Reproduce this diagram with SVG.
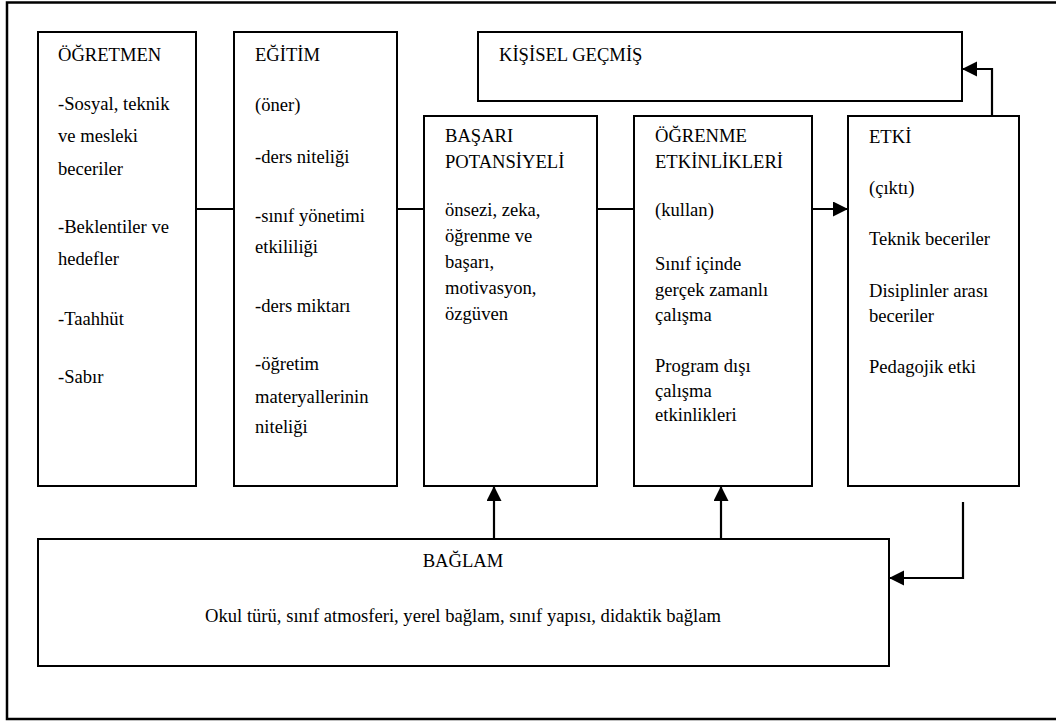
<svg xmlns="http://www.w3.org/2000/svg" width="1056" height="722" viewBox="0 0 1056 722" font-family="'Liberation Serif', 'Times New Roman', serif">
<style>
  .box { fill: #ffffff; stroke: #000000; stroke-width: 2; }
  .t { font-family: 'Liberation Serif', 'Times New Roman', serif; font-size: 18.6px; fill: #000000; }
  .c { text-anchor: middle; }
  .line { fill: none; stroke: #000000; stroke-width: 2; }
  .arrow { fill: none; stroke: #000000; stroke-width: 2.2; }
</style>
<defs>
  <marker id="ah" markerUnits="userSpaceOnUse" markerWidth="16" markerHeight="16" refX="15" refY="7.5" orient="auto">
    <path d="M0,0 L15,7.5 L0,15 Z" fill="#000000"/>
  </marker>
</defs>
<rect x="0" y="0" width="1056" height="722" fill="#ffffff"/>
<rect id="frame" x="7" y="2.5" width="1060" height="716.5" fill="none" stroke="#000000" stroke-width="2.5"/>

<g id="ogretmen">
  <rect class="box" x="38" y="32" width="158" height="454"/>
  <text class="t" x="58" y="61">ÖĞRETMEN</text>
  <text class="t" x="58" y="110">-Sosyal, teknik</text>
  <text class="t" x="58" y="142">ve mesleki</text>
  <text class="t" x="58" y="175">beceriler</text>
  <text class="t" x="58" y="233">-Beklentiler ve</text>
  <text class="t" x="58" y="265">hedefler</text>
  <text class="t" x="58" y="325">-Taahhüt</text>
  <text class="t" x="58" y="383">-Sabır</text>
</g>

<g id="egitim">
  <rect class="box" x="234" y="32" width="163" height="454"/>
  <text class="t" x="255" y="61">EĞİTİM</text>
  <text class="t" x="255" y="111">(öner)</text>
  <text class="t" x="255" y="163">-ders niteliği</text>
  <text class="t" x="255" y="222">-sınıf yönetimi</text>
  <text class="t" x="255" y="253">etkililiği</text>
  <text class="t" x="255" y="312">-ders miktarı</text>
  <text class="t" x="255" y="370">-öğretim</text>
  <text class="t" x="255" y="403">materyallerinin</text>
  <text class="t" x="255" y="433">niteliği</text>
</g>

<g id="kisisel">
  <rect class="box" x="478" y="32" width="484" height="69"/>
  <text class="t" x="499" y="61">KİŞİSEL GEÇMİŞ</text>
</g>

<g id="basari">
  <rect class="box" x="424" y="116" width="173" height="370"/>
  <text class="t" x="445" y="142">BAŞARI</text>
  <text class="t" x="445" y="168">POTANSİYELİ</text>
  <text class="t" x="445" y="216">önsezi, zeka,</text>
  <text class="t" x="445" y="242">öğrenme ve</text>
  <text class="t" x="445" y="268">başarı,</text>
  <text class="t" x="445" y="294">motivasyon,</text>
  <text class="t" x="445" y="320">özgüven</text>
</g>

<g id="ogrenme">
  <rect class="box" x="634" y="116" width="178" height="370"/>
  <text class="t" x="655" y="142">ÖĞRENME</text>
  <text class="t" x="655" y="168">ETKİNLİKLERİ</text>
  <text class="t" x="655" y="216">(kullan)</text>
  <text class="t" x="655" y="270">Sınıf içinde</text>
  <text class="t" x="655" y="296">gerçek zamanlı</text>
  <text class="t" x="655" y="321">çalışma</text>
  <text class="t" x="655" y="372">Program dışı</text>
  <text class="t" x="655" y="397">çalışma</text>
  <text class="t" x="655" y="421">etkinlikleri</text>
</g>

<g id="etki">
  <rect class="box" x="848" y="116" width="171" height="370"/>
  <text class="t" x="869" y="143">ETKİ</text>
  <text class="t" x="869" y="194">(çıktı)</text>
  <text class="t" x="869" y="245">Teknik beceriler</text>
  <text class="t" x="869" y="297">Disiplinler arası</text>
  <text class="t" x="869" y="322">beceriler</text>
  <text class="t" x="869" y="373">Pedagojik etki</text>
</g>

<g id="baglam">
  <rect class="box" x="38" y="539" width="851" height="127"/>
  <text class="t c" x="463" y="567">BAĞLAM</text>
  <text class="t c" x="463" y="622">Okul türü, sınıf atmosferi, yerel bağlam, sınıf yapısı, didaktik bağlam</text>
</g>

<g id="connectors">
  <line class="line" x1="196" y1="209" x2="234" y2="209"/>
  <line class="line" x1="397" y1="209" x2="424" y2="209"/>
  <line class="line" x1="597" y1="209" x2="634" y2="209"/>
  <line class="arrow" x1="812" y1="209" x2="848" y2="209" marker-end="url(#ah)"/>
  <polyline class="arrow" points="992,116 992,69 962,69" marker-end="url(#ah)"/>
  <line class="arrow" x1="494" y1="539" x2="494" y2="486" marker-end="url(#ah)"/>
  <line class="arrow" x1="721" y1="539" x2="721" y2="486" marker-end="url(#ah)"/>
  <polyline class="arrow" points="963,502 963,578 889,578" marker-end="url(#ah)"/>
</g>
</svg>
